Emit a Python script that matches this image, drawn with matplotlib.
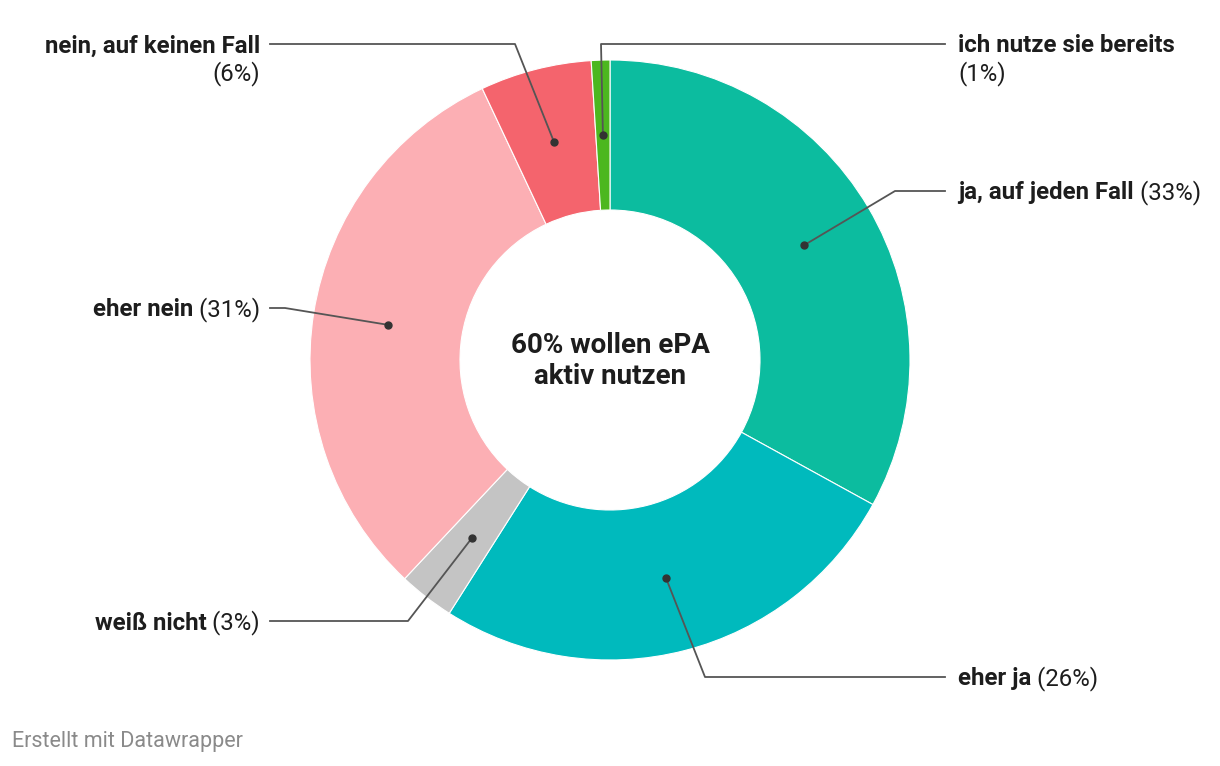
import numpy as np
import matplotlib.pyplot as plt

# Daten
kategorien = ['ja, auf jeden Fall', 'eher ja', 'weiß nicht', 'eher nein',
              'nein, auf keinen Fall', 'ich nutze sie bereits']
werte = [33, 26, 3, 31, 6, 1]
farben = ['#0cbc9f', '#00babd', '#c4c4c4', '#fcafb4', '#f4646d', '#4cb71f']
mitte_text = '60% wollen ePA\naktiv nutzen'
quelle = 'Erstellt mit Datawrapper'

#### Layout (Pixelkoordinaten) ####
cx, cy, r_out, breite = 610, 360, 300, 150
# Knickpunkt der Linie, Ende der Linie, Text-x, Ausrichtung, zweizeilig?
label_pos = {
    'ja, auf jeden Fall': ((895, 191), 945, 958, 'left', False),
    'eher ja': ((705, 677), 945, 958, 'left', False),
    'weiß nicht': ((408, 621), 270, 260, 'right', False),
    'eher nein': ((285, 308), 270, 260, 'right', False),
    'nein, auf keinen Fall': ((515, 44), 270, 260, 'right', True),
    'ich nutze sie bereits': ((601, 44), 945, 958, 'left', True),
}
fs = 17.3
dy = 2  # Text etwas tiefer, damit er mittig zur Linie sitzt

plt.rcParams['font.family'] = ['Roboto', 'DejaVu Sans']

fig = plt.figure(figsize=(12.2, 7.66), dpi=100)
ax = fig.add_axes([0, 0, 1, 1])

# y-Achse ist invertiert: Start oben = -90 Grad, gegen den Uhrzeigersinn in Daten = im Uhrzeigersinn sichtbar
wedges, _ = ax.pie(werte, colors=farben, startangle=-90, counterclock=True,
                   center=(cx, cy), radius=r_out,
                   wedgeprops=dict(width=breite, edgecolor='white', linewidth=0.8))
ax.set_xlim(0, 1220)
ax.set_ylim(766, 0)
ax.set_aspect('equal')
ax.axis('off')

line_col = '#555555'
for w, name, val in zip(wedges, kategorien, werte):
    ang = np.deg2rad((w.theta1 + w.theta2) / 2)
    r_mid = r_out - breite / 2
    px = cx + r_mid * np.cos(ang)
    py = cy + r_mid * np.sin(ang)
    (kx, ky), ex, tx, ha, zwei = label_pos[name]
    ax.plot([px, kx, ex], [py, ky, ky], color=line_col, lw=1.3, zorder=3)
    ax.plot(px, py, 'o', color='#333333', ms=5, zorder=4)
    ty = ky + dy
    if zwei:
        ax.text(tx, ty, name, ha=ha, va='center', fontsize=fs, fontweight='bold', color='#1d1d1d')
        ax.text(tx, ty + 28, f'({val}%)', ha=ha, va='center', fontsize=fs, color='#1d1d1d')
    else:
        if ha == 'left':
            t = ax.text(tx, ty, name, ha='left', va='center', fontsize=fs, fontweight='bold', color='#1d1d1d')
            ax.annotate(f' ({val}%)', xycoords=t, xy=(1, 0.5), va='center', ha='left',
                        fontsize=fs, color='#1d1d1d')
        else:
            t = ax.text(tx, ty, f' ({val}%)', ha='right', va='center', fontsize=fs, color='#1d1d1d')
            ax.annotate(name, xycoords=t, xy=(0, 0.5), va='center', ha='right',
                        fontsize=fs, fontweight='bold', color='#1d1d1d')

ax.text(cx, cy + 1, mitte_text, ha='center', va='center', fontsize=20, fontweight='bold',
        color='#1d1d1d', linespacing=1.15)

fig.text(12 / 1220, 1 - 742 / 766, quelle, ha='left', va='center', fontsize=15.5, color='#8a8a8a')

fig.savefig('out.png', dpi=100)
